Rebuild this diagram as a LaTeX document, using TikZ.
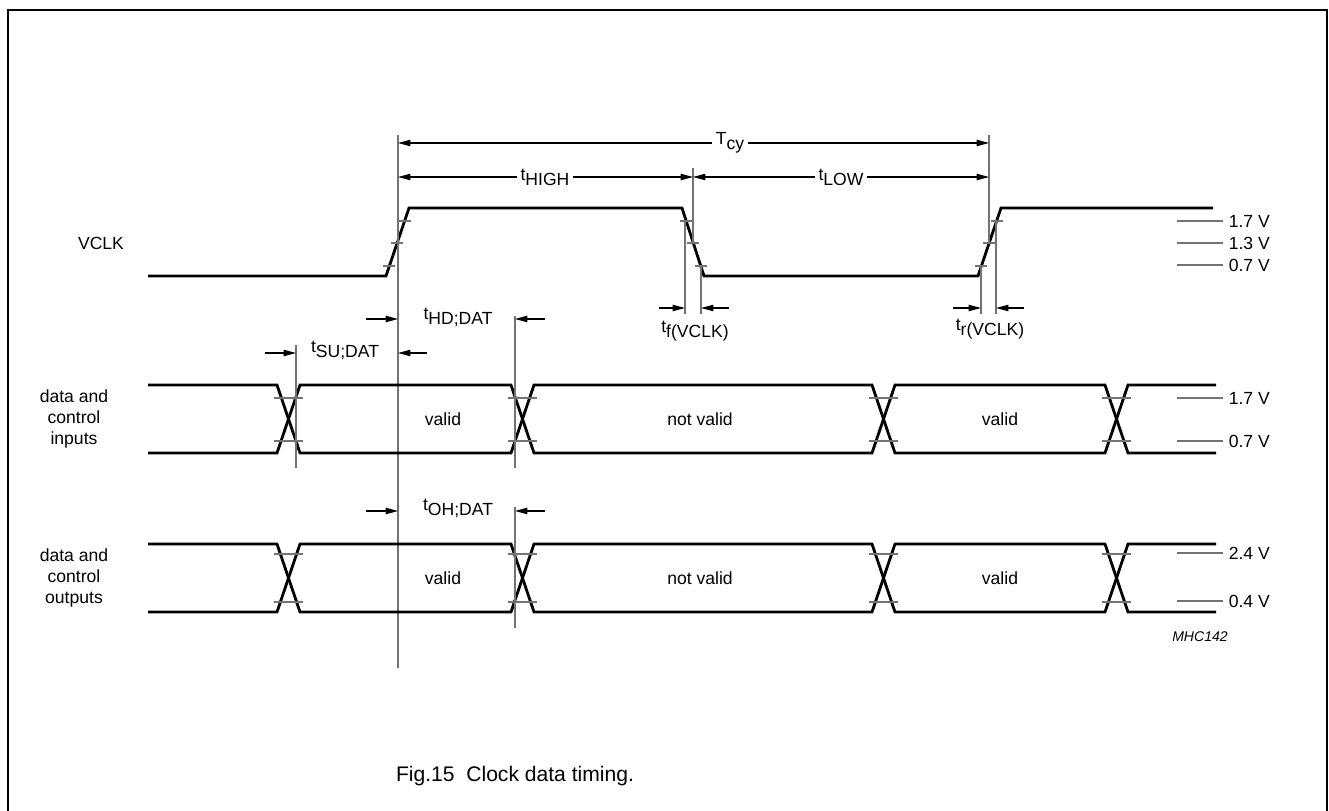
\documentclass[tikz,border=0pt]{standalone}
\usepackage{fontspec}
\setmainfont{Liberation Sans}
\usetikzlibrary{arrows.meta, positioning}

\newcommand{\tsub}[2]{#1\raisebox{-0.55ex}{#2}}

\begin{document}
\begin{tikzpicture}[x=0.02cm, y=-0.02cm,
    font=\fontsize{10}{12}\selectfont,
    wave/.style={line width=1.6pt, line join=miter},
    guide/.style={line width=0.6pt, black!55},
    levtick/.style={line width=0.6pt, black!55},
    dimarrow/.style={line width=0.6pt, -{Triangle[length=7pt,width=3.6pt]}},
    into/.style={line width=0.6pt, {Triangle[length=7pt,width=3.6pt]}-},
    lbl/.style={inner sep=2pt}]
    \useasboundingbox (0,0) rectangle (1329,811);
    % frame
    \draw[line width=1.1pt] (8,811) -- (8,10) -- (1327,10) -- (1327,811);

    % clock
    \node (vclk) at (101,243) {VCLK};
    \draw[wave] (148,276) -- (386,276) -- (409,208) -- (682,208) -- (704,276) -- (978,276) -- (1001,208) -- (1213,208);
    \foreach \x/\y in {404.6/221, 397.2/243, 389.4/266, 686.2/221, 693.3/243, 700.8/266, 996.6/221, 989.2/243, 981.4/266}
        \draw[levtick] (\x-6,\y) -- (\x+6,\y);
    \foreach \y/\v in {221/1.7, 243/1.3, 265/0.7}
        \draw[levtick] (1177,\y) -- (1223,\y) node[right, inner sep=3pt, black] {\v\ V};

    % edge markers
    \coordinate (r1) at (398,135);
    \coordinate (f1) at (693,168);
    \coordinate (r2) at (989,135);
    \draw[guide] (r1) -- (398,668);
    \draw[guide] (f1) -- (693,243);
    \draw[guide] (r2) -- (989,243);
    \coordinate (fa) at (685,308);
    \coordinate (fb) at (701,308);
    \coordinate (ra) at (981,308);
    \coordinate (rb) at (996,308);
    \draw[guide] (685,221) -- (685,314) (701,266) -- (701,314);
    \draw[guide] (996,221) -- (996,314) (981,266) -- (981,314);

    % period
    \node[lbl] (tcy) at (730,143) {\tsub{T}{cy}};
    \draw[dimarrow] (tcy.west) -- (tcy.west -| r1);
    \draw[dimarrow] (tcy.east) -- (tcy.east -| r2);
    \node[lbl] (thigh) at (545,177) {\tsub{t}{HIGH}};
    \draw[dimarrow] (thigh.west) -- (thigh.west -| r1);
    \draw[dimarrow] (thigh.east) -- (thigh.east -| f1);
    \node[lbl] (tlow) at (841,177) {\tsub{t}{LOW}};
    \draw[dimarrow] (tlow.west) -- (tlow.west -| f1);
    \draw[dimarrow] (tlow.east) -- (tlow.east -| r2);

    % fall and rise times
    \draw[into] (fa) -- ++(-26,0);
    \draw[into] (fb) -- ++(28,0);
    \node (tf) at (695,331) {\tsub{t}{f(VCLK)}};
    \draw[into] (ra) -- ++(-28,0);
    \draw[into] (rb) -- ++(28,0);
    \node (tr) at (990,329) {\tsub{t}{r(VCLK)}};

    % inputs
    \node[align=center] (din) at (74,419) {data and\\control\\inputs};
    \draw[wave] (148,385) -- (277,385) -- (300,453) -- (511,453) -- (534,385) -- (872,385) -- (895,453) -- (1105,453) -- (1128,385) -- (1216,385);
    \draw[wave] (148,453) -- (277,453) -- (300,385) -- (511,385) -- (534,453) -- (872,453) -- (895,385) -- (1105,385) -- (1128,453) -- (1216,453);
    \foreach \x in {277,511,872,1105}
        \draw[levtick] (\x-3,398) -- (\x+26,398) (\x-3,441) -- (\x+26,441);
    \foreach \y/\v in {398/1.7, 441/0.7}
        \draw[levtick] (1177,\y) -- (1223,\y) node[right, inner sep=3pt, black] {\v\ V};
    \node (iv1) at (443,419) {valid};
    \node (inv) at (700,419) {not valid};
    \node (iv2) at (1000,419) {valid};

    % outputs
    \node[align=center] (dout) at (74,578) {data and\\control\\outputs};
    \draw[wave] (148,544) -- (277,544) -- (300,612) -- (511,612) -- (534,544) -- (872,544) -- (895,612) -- (1105,612) -- (1128,544) -- (1216,544);
    \draw[wave] (148,612) -- (277,612) -- (300,544) -- (511,544) -- (534,612) -- (872,612) -- (895,544) -- (1105,544) -- (1128,612) -- (1216,612);
    \foreach \x in {277,511,872,1105}
        \draw[levtick] (\x-3,554) -- (\x+26,554) (\x-3,602) -- (\x+26,602);
    \foreach \y/\v in {553/2.4, 601/0.4}
        \draw[levtick] (1177,\y) -- (1223,\y) node[right, inner sep=3pt, black] {\v\ V};
    \node (ov1) at (443,578) {valid};
    \node (onv) at (700,578) {not valid};
    \node (ov2) at (1000,578) {valid};

    % setup / hold
    \coordinate (su) at (296,345);
    \coordinate (hd) at (515,316);
    \coordinate (oh) at (515,507);
    \draw[guide] (su) -- (296,468);
    \draw[guide] (hd) -- (515,468);
    \draw[guide] (oh) -- (515,628);
    \coordinate (su1) at (296,353);
    \coordinate (su2) at (398,353);
    \draw[into] (su1) -- ++(-31,0);
    \draw[into] (su2) -- ++(29,0);
    \node (tsu) at (345,350) {\tsub{t}{SU;DAT}};
    \coordinate (hd1) at (398,319);
    \coordinate (hd2) at (515,319);
    \draw[into] (hd1) -- ++(-32,0);
    \draw[into] (hd2) -- ++(30,0);
    \node (thd) at (458,317) {\tsub{t}{HD;DAT}};
    \coordinate (oh1) at (398,511);
    \coordinate (oh2) at (515,511);
    \draw[into] (oh1) -- ++(-32,0);
    \draw[into] (oh2) -- ++(30,0);
    \node (toh) at (458,508) {\tsub{t}{OH;DAT}};

    \node[font=\fontsize{8}{10}\selectfont\itshape] (code) at (1200,637) {MHC142};
    \node[font=\fontsize{12}{14}\selectfont] (cap) at (515,776) {Fig.15\ \ Clock data timing.};
\end{tikzpicture}
\end{document}
